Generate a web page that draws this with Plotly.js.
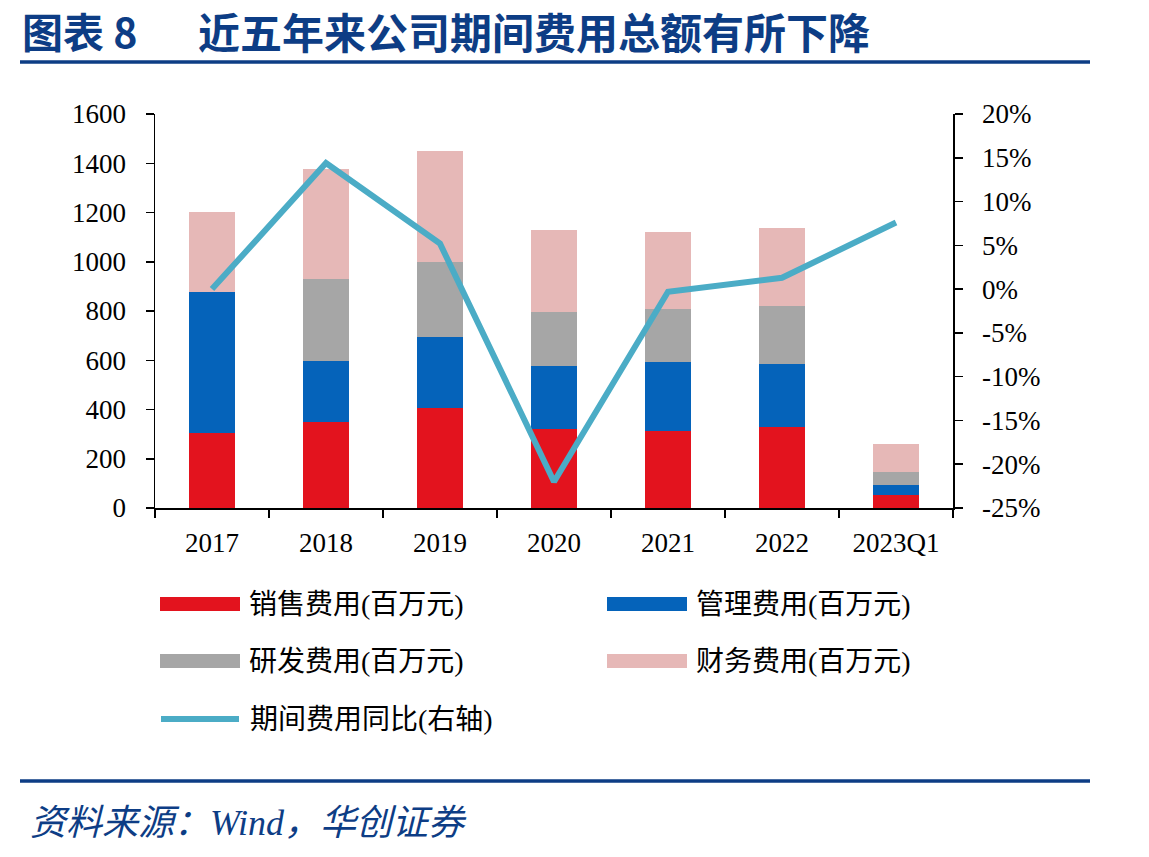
<!DOCTYPE html>
<html>
<head>
<meta charset="utf-8">
<script src="https://cdn.plot.ly/plotly-3.0.1.min.js"></script>
<style>
  html, body { margin: 0; padding: 0; background: #fff; }
  #chart { width: 1149px; height: 857px; }
</style>
</head>
<body>
<div id="chart"></div>
<script>
// Period expenses by category (百万元) and year-on-year change of the total
const categories = ['2017', '2018', '2019', '2020', '2021', '2022', '2023Q1'];
const sales    = [305, 350, 405, 321, 311, 330, 52];
const admin    = [572, 248, 291, 256, 282, 256, 41];
const rnd      = [null, 333, 303, 219, 216, 234, 54];
const finance  = [326, 446, 450, 332, 313, 317, 113];
const yoy      = [0.000, 0.144, 0.052, -0.220, -0.003, 0.013, 0.076];

const barNames = ['销售费用(百万元)', '管理费用(百万元)', '研发费用(百万元)', '财务费用(百万元)'];
const lineName = '期间费用同比(右轴)';
const barColors = ['#E3131E', '#0563BA', '#A6A6A6', '#E6B8B7'];
const lineColor = '#4BACC6';

const leftTicks = [0, 200, 400, 600, 800, 1000, 1200, 1400, 1600];
const rightTickVals = [-0.25, -0.20, -0.15, -0.10, -0.05, 0, 0.05, 0.10, 0.15, 0.20];
const rightTickText = ['-25%', '-20%', '-15%', '-10%', '-5%', '0%', '5%', '10%', '15%', '20%'];

const figureLabel = '图表 8';
const titleText = '近五年来公司期间费用总额有所下降';
const sourceText = '资料来源：Wind，华创证券';

// Page geometry in pixels
const W = 1149, H = 857;
const PL = 155, PR = 953, PT = 114, PB = 508;
const px2x = px => (px - PL) / (PR - PL);
const px2y = py => (PB - py) / (PB - PT);

const NUM_FONT = 'Liberation Serif, "Times New Roman", "Noto Sans CJK SC", serif';
const CJK_FONT = 'Liberation Serif, "Noto Sans CJK SC", serif';
const NAVY = '#0D3D85';
const TICK_SIZE = 27;

const seriesValues = [sales, admin, rnd, finance];
const traces = seriesValues.map((vals, i) => ({
  type: 'bar',
  name: barNames[i],
  x: categories,
  y: vals,
  marker: { color: barColors[i], line: { width: 0 } },
  hoverinfo: 'x+y+name'
}));
traces.push({
  type: 'scatter',
  mode: 'lines',
  name: lineName,
  x: categories,
  y: yoy,
  yaxis: 'y2',
  line: { color: lineColor, width: 6 }
});

// Hand-laid legend: wide swatches in two columns, line entry underneath
const shapes = [];
const annotations = [];
const legendCols = [160, 607];
const legendRows = [604, 661];
const swatchW = 80, swatchH = 14;
const LEGEND_SIZE = 28;
barNames.forEach((name, i) => {
  const cx = legendCols[i % 2];
  const cy = legendRows[Math.floor(i / 2)];
  shapes.push({
    type: 'rect', xref: 'paper', yref: 'paper',
    x0: px2x(cx), x1: px2x(cx + swatchW),
    y0: px2y(cy + swatchH / 2), y1: px2y(cy - swatchH / 2),
    fillcolor: barColors[i], line: { width: 0 }
  });
  annotations.push({
    xref: 'paper', yref: 'paper', x: px2x(cx + swatchW + 7), y: px2y(cy),
    xanchor: 'left', yanchor: 'middle', showarrow: false,
    text: name, font: { family: CJK_FONT, size: LEGEND_SIZE, color: '#000' }
  });
});
const lineRowY = 719;
shapes.push({
  type: 'line', xref: 'paper', yref: 'paper',
  x0: px2x(161), x1: px2x(239), y0: px2y(lineRowY), y1: px2y(lineRowY),
  line: { color: lineColor, width: 6 }
});
annotations.push({
  xref: 'paper', yref: 'paper', x: px2x(248), y: px2y(lineRowY),
  xanchor: 'left', yanchor: 'middle', showarrow: false,
  text: lineName, font: { family: CJK_FONT, size: LEGEND_SIZE, color: '#000' }
});

// Header and footer rules
shapes.push({
  type: 'line', xref: 'paper', yref: 'paper',
  x0: px2x(20), x1: px2x(1090), y0: px2y(62), y1: px2y(62),
  line: { color: NAVY, width: 3.5 }
});
shapes.push({
  type: 'line', xref: 'paper', yref: 'paper',
  x0: px2x(20), x1: px2x(1090), y0: px2y(781), y1: px2y(781),
  line: { color: NAVY, width: 3.5 }
});

annotations.push({
  xref: 'paper', yref: 'paper', x: px2x(20), y: px2y(30),
  xanchor: 'left', yanchor: 'middle', showarrow: false,
  text: '<b>' + figureLabel + '</b>',
  font: { family: '"Noto Sans CJK SC", sans-serif', size: 41, color: NAVY }
});
annotations.push({
  xref: 'paper', yref: 'paper', x: px2x(196), y: px2y(30),
  xanchor: 'left', yanchor: 'middle', showarrow: false,
  text: '<b>' + titleText + '</b>',
  font: { family: '"Noto Sans CJK SC", sans-serif', size: 42, color: NAVY }
});
annotations.push({
  xref: 'paper', yref: 'paper', x: px2x(28), y: px2y(823),
  xanchor: 'left', yanchor: 'middle', showarrow: false,
  text: '<i>' + sourceText + '</i>',
  font: { family: CJK_FONT, size: 36, color: NAVY }
});

const layout = {
  width: W, height: H,
  margin: { l: PL, r: W - PR, t: PT, b: H - PB, pad: 0 },
  paper_bgcolor: '#fff', plot_bgcolor: '#fff',
  barmode: 'stack',
  bargap: 0.6,
  showlegend: false,
  font: { family: NUM_FONT, size: TICK_SIZE, color: '#000' },
  xaxis: {
    type: 'category',
    categoryorder: 'array', categoryarray: categories,
    showline: true, linecolor: '#000', linewidth: 1.5,
    ticks: 'outside', ticklen: 8, tickwidth: 1.5, tickcolor: '#000',
    tickson: 'boundaries',
    showgrid: false, zeroline: false,
    ticklabelstandoff: 10,
    tickfont: { family: NUM_FONT, size: TICK_SIZE, color: '#000' }
  },
  yaxis: {
    range: [0, 1600],
    tickvals: leftTicks,
    showline: true, linecolor: '#000', linewidth: 1.5,
    ticks: 'outside', ticklen: 8, tickwidth: 1.5, tickcolor: '#000',
    showgrid: false, zeroline: false,
    ticklabelstandoff: 14,
    tickfont: { family: NUM_FONT, size: TICK_SIZE, color: '#000' }
  },
  yaxis2: {
    overlaying: 'y', side: 'right',
    range: [-0.25, 0.20],
    tickvals: rightTickVals, ticktext: rightTickText,
    showline: true, linecolor: '#000', linewidth: 1.5,
    ticks: 'outside', ticklen: 8, tickwidth: 1.5, tickcolor: '#000',
    showgrid: false, zeroline: false,
    ticklabelstandoff: 14,
    tickfont: { family: NUM_FONT, size: TICK_SIZE, color: '#000' }
  },
  shapes: shapes,
  annotations: annotations
};

Plotly.newPlot('chart', traces, layout, { displayModeBar: false, staticPlot: true });
</script>
</body>
</html>
